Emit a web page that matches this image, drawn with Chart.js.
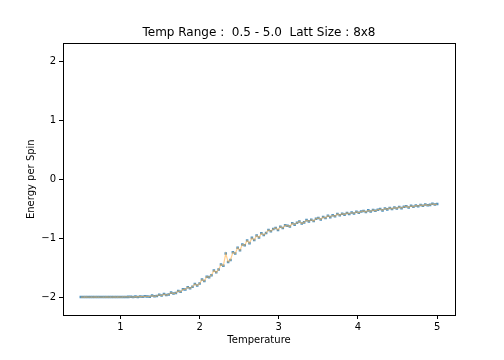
<!DOCTYPE html>
<html>
<head>
<meta charset="utf-8">
<script src="https://cdn.jsdelivr.net/npm/chart.js@4.4.1/dist/chart.umd.min.js"></script>
<style>
  html, body { margin: 0; padding: 0; background: #fff; }
  canvas { display: block; }
</style>
</head>
<body>
<canvas id="energy" width="504" height="360"></canvas>
<script>
// Energy per spin vs temperature, 8x8 lattice
var temps = [
    0.50, 0.53, 0.56, 0.59, 0.62, 0.65, 0.68, 0.71, 0.74, 0.77,
    0.80, 0.83, 0.86, 0.89, 0.92, 0.95, 0.98, 1.01, 1.04, 1.07,
    1.10, 1.13, 1.16, 1.19, 1.22, 1.25, 1.28, 1.31, 1.34, 1.37,
    1.40, 1.43, 1.46, 1.49, 1.52, 1.55, 1.58, 1.61, 1.64, 1.67,
    1.70, 1.73, 1.76, 1.79, 1.82, 1.85, 1.88, 1.91, 1.94, 1.97,
    2.00, 2.03, 2.06, 2.09, 2.12, 2.15, 2.18, 2.21, 2.24, 2.27,
    2.30, 2.33, 2.36, 2.39, 2.42, 2.45, 2.48, 2.51, 2.54, 2.57,
    2.60, 2.63, 2.66, 2.69, 2.72, 2.75, 2.78, 2.81, 2.84, 2.87,
    2.90, 2.93, 2.96, 2.99, 3.02, 3.05, 3.08, 3.11, 3.14, 3.17,
    3.20, 3.23, 3.26, 3.29, 3.32, 3.35, 3.38, 3.41, 3.44, 3.47,
    3.50, 3.53, 3.56, 3.59, 3.62, 3.65, 3.68, 3.71, 3.74, 3.77,
    3.80, 3.83, 3.86, 3.89, 3.92, 3.95, 3.98, 4.01, 4.04, 4.07,
    4.10, 4.13, 4.16, 4.19, 4.22, 4.25, 4.28, 4.31, 4.34, 4.37,
    4.40, 4.43, 4.46, 4.49, 4.52, 4.55, 4.58, 4.61, 4.64, 4.67,
    4.70, 4.73, 4.76, 4.79, 4.82, 4.85, 4.88, 4.91, 4.94, 4.97,
    5.00
];
var energy = [
    -2.000, -2.000, -1.999, -2.000, -2.000, -2.000, -1.999, -2.000, -2.000, -2.000,
    -2.000, -1.999, -2.000, -2.000, -1.998, -2.000, -1.999, -2.000, -1.998, -1.999,
    -1.997, -1.995, -2.000, -1.993, -1.998, -1.990, -1.996, -1.987, -1.991, -1.994,
    -1.975, -1.988, -1.981, -1.962, -1.974, -1.950, -1.967, -1.958, -1.925, -1.941,
    -1.931, -1.898, -1.912, -1.869, -1.872, -1.835, -1.851, -1.824, -1.779, -1.803,
    -1.772, -1.702, -1.728, -1.655, -1.662, -1.629, -1.548, -1.581, -1.532, -1.449,
    -1.468, -1.262, -1.405, -1.371, -1.241, -1.262, -1.165, -1.205, -1.108, -1.121,
    -1.042, -1.085, -0.996, -1.031, -0.955, -0.991, -0.918, -0.947, -0.912, -0.862,
    -0.883, -0.846, -0.829, -0.861, -0.806, -0.829, -0.782, -0.791, -0.802, -0.748,
    -0.771, -0.739, -0.718, -0.751, -0.733, -0.695, -0.716, -0.688, -0.709, -0.671,
    -0.658, -0.684, -0.641, -0.659, -0.622, -0.644, -0.613, -0.629, -0.592, -0.611,
    -0.585, -0.601, -0.572, -0.589, -0.566, -0.581, -0.552, -0.571, -0.548, -0.539,
    -0.558, -0.529, -0.547, -0.522, -0.536, -0.518, -0.507, -0.529, -0.498, -0.512,
    -0.488, -0.506, -0.479, -0.497, -0.472, -0.491, -0.468, -0.459, -0.481, -0.452,
    -0.468, -0.446, -0.458, -0.437, -0.452, -0.429, -0.443, -0.436, -0.418, -0.431,
    -0.422
];
var xTicks = [1, 2, 3, 4, 5];
var yTicks = [-2, -1, 0, 1, 2];

var points = temps.map(function(t, i) { return {x: t, y: energy[i]}; });

function fmt(v) {
    return v < 0 ? '\u2212' + Math.abs(v) : String(v);
}

// box around the plot area like matplotlib's spines
const frame = {
    id: 'frame',
    afterDraw(chart) {
        const {ctx, chartArea} = chart;
        ctx.save();
        ctx.strokeStyle = '#000';
        ctx.lineWidth = 1;
        ctx.strokeRect(Math.round(chartArea.left) + 0.5, Math.round(chartArea.top) + 0.5,
            Math.round(chartArea.right - chartArea.left), Math.round(chartArea.bottom - chartArea.top));
        ctx.restore();
    }
};

Chart.defaults.font.family = '"DejaVu Sans", sans-serif';
Chart.defaults.color = '#000';

new Chart(document.getElementById('energy').getContext('2d'), {
    type: 'scatter',
    data: {
        datasets: [
            {
                data: points,
                showLine: true,
                borderColor: 'rgba(255, 175, 70, 0.6)',
                borderWidth: 1.2,
                pointRadius: 0,
                order: 0
            },
            {
                data: points,
                pointStyle: 'rect',
                pointRadius: 1.8,
                borderWidth: 0,
                backgroundColor: 'rgba(31, 119, 180, 0.8)',
                order: 1
            }
        ]
    },
    options: {
        responsive: false,
        animation: false,
        devicePixelRatio: 1,
        layout: { padding: { left: 0, right: 49, top: 0, bottom: 0 } },
        plugins: {
            legend: { display: false },
            tooltip: { enabled: false },
            title: {
                display: true,
                fullSize: false,
                text: 'Temp Range :  0.5 - 5.0  Latt Size : 8x8',
                font: { size: 12, weight: 'normal' },
                padding: { top: 26, bottom: 3 }
            }
        },
        scales: {
            x: {
                type: 'linear',
                min: 0.275,
                max: 5.225,
                afterBuildTicks: function(scale) {
                    scale.ticks = xTicks.map(function(v) { return {value: v}; });
                },
                afterFit: function(scale) { scale.height = 45; },
                ticks: { font: { size: 10 }, padding: 2, maxRotation: 0, callback: fmt },
                grid: { drawOnChartArea: false, drawTicks: true, tickLength: 4, color: '#000' },
                border: { display: false },
                title: { display: true, text: 'Temperature', font: { size: 10 }, padding: { top: 0, bottom: 14 } }
            },
            y: {
                type: 'linear',
                min: -2.305,
                max: 2.305,
                afterBuildTicks: function(scale) {
                    scale.ticks = yTicks.map(function(v) { return {value: v}; });
                },
                afterFit: function(scale) { scale.width = 63; },
                ticks: { font: { size: 10 }, padding: 3, callback: fmt },
                grid: { drawOnChartArea: false, drawTicks: true, tickLength: 4, color: '#000' },
                border: { display: false },
                title: { display: true, text: 'Energy per Spin', font: { size: 10 }, padding: { top: 25, bottom: 0 } }
            }
        }
    },
    plugins: [frame]
});
</script>
</body>
</html>
